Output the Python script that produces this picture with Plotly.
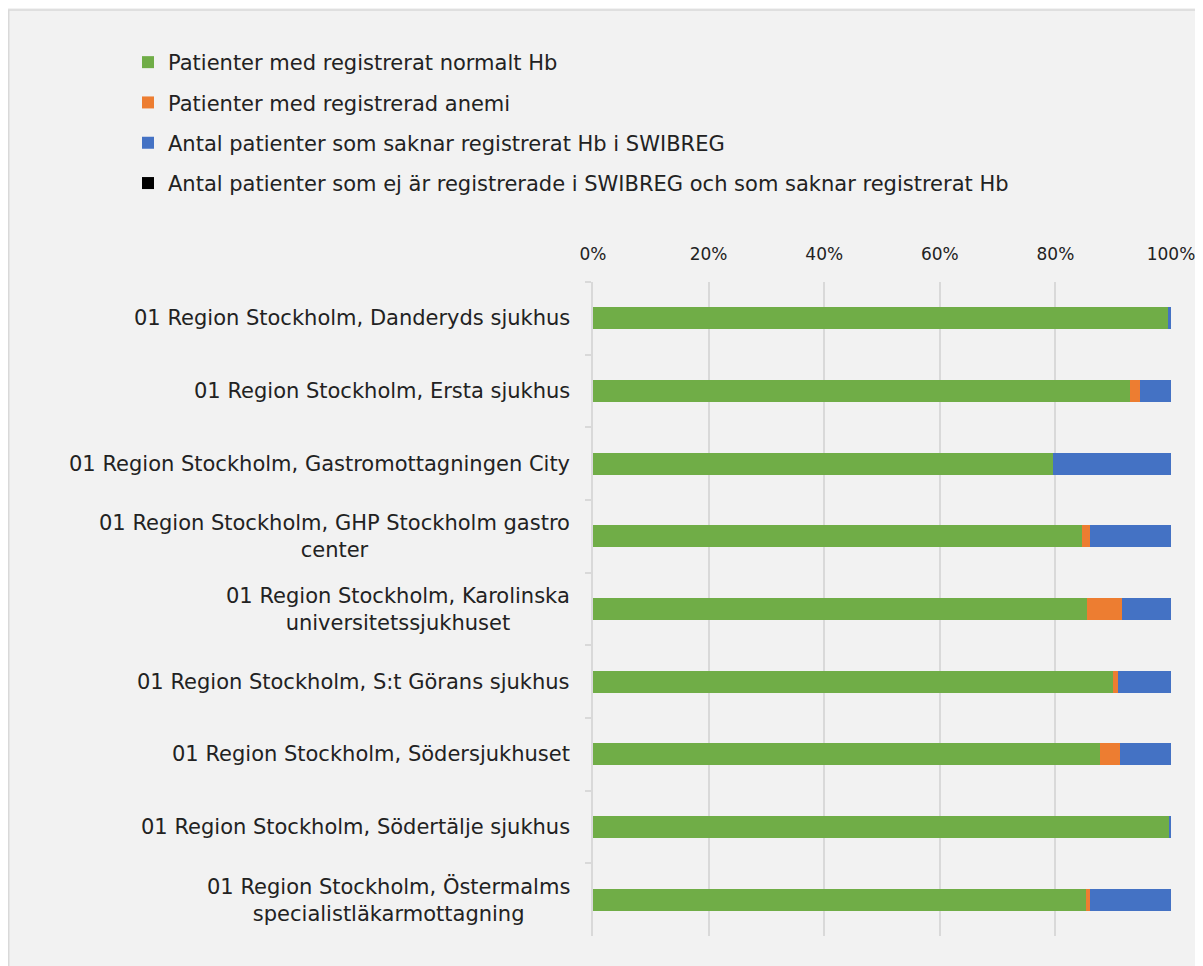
import plotly.graph_objects as go

categories = [
    "01 Region Stockholm, Danderyds sjukhus",
    "01 Region Stockholm, Ersta sjukhus",
    "01 Region Stockholm, Gastromottagningen City",
    "01 Region Stockholm, GHP Stockholm gastro<br>center",
    "01 Region Stockholm, Karolinska<br>universitetssjukhuset",
    "01 Region Stockholm, S:t Görans sjukhus",
    "01 Region Stockholm, Södersjukhuset",
    "01 Region Stockholm, Södertälje sjukhus",
    "01 Region Stockholm, Östermalms<br>specialistläkarmottagning",
]
normal_hb = [99.5, 92.9, 79.6, 84.6, 85.4, 90.0, 87.7, 99.6, 85.3]
anemi = [0.0, 1.7, 0.0, 1.3, 6.1, 0.8, 3.5, 0.0, 0.6]
saknar_hb = [0.5, 5.4, 20.4, 14.1, 8.5, 9.2, 8.8, 0.4, 14.1]
ej_registrerade = [0, 0, 0, 0, 0, 0, 0, 0, 0]

series_names = [
    "Patienter med registrerat normalt Hb",
    "Patienter med registrerad anemi",
    "Antal patienter som saknar registrerat Hb i SWIBREG",
    "Antal patienter som ej är registrerade i SWIBREG och som saknar registrerat Hb",
]
series_values = [normal_hb, anemi, saknar_hb, ej_registrerade]
colors = ["#70ad47", "#ed7d31", "#4472c4", "#000000"]
x_ticks = [0, 0.2, 0.4, 0.6, 0.8, 1.0]

FONT = "DejaVu Sans"
TXT = "#222222"
FS = 21
W, H = 1195, 958
L, R, T, B = 585, 32, 274, 30

fig = go.Figure()
for i, (name, vals, col) in enumerate(zip(series_names, series_values, colors)):
    fig.add_trace(go.Bar(
        y=categories, x=[v / 100 for v in vals], name=name, orientation="h",
        marker=dict(color=col, line=dict(width=0)), legendgroup=f"g{i}",
    ))

for c in categories:
    fig.add_annotation(
        x=0, xref="paper", y=c, yref="y", text=c, showarrow=False,
        xanchor="right", yanchor="middle", align="center", xshift=-21,
        font=dict(family=FONT, size=FS, color=TXT),
    )

plot_w = W - L - R
plot_h = H - T - B
fig.add_shape(type="line", xref="paper", yref="paper",
              x0=-L / plot_w, x1=(W - L) / plot_w,
              y0=1 + (T - 2) / plot_h, y1=1 + (T - 2) / plot_h,
              line=dict(color="#d9d9d9", width=1.5))
fig.add_shape(type="line", xref="paper", yref="paper",
              x0=-(L - 0.75) / plot_w, x1=-(L - 0.75) / plot_w,
              y0=-B / plot_h, y1=1 + (T - 2) / plot_h,
              line=dict(color="#d9d9d9", width=1.5))

fig.update_layout(
    width=W, height=H,
    margin=dict(l=L, r=R, t=T, b=B, pad=0, autoexpand=False),
    paper_bgcolor="#f2f2f2", plot_bgcolor="#f2f2f2",
    barmode="stack", bargap=0.7,
    font=dict(family=FONT, size=FS, color=TXT),
    showlegend=True,
    legend=dict(
        xref="container", yref="container", x=120 / W, y=1 - 34 / H,
        xanchor="left", yanchor="top", orientation="v",
        traceorder="grouped", tracegroupgap=10,
        font=dict(family=FONT, size=FS, color=TXT),
        bgcolor="rgba(0,0,0,0)",
    ),
    xaxis=dict(
        side="top", range=[0, 1], tickvals=x_ticks, tickformat=".0%",
        showgrid=True, gridcolor="#d9d9d9", gridwidth=1.5,
        zeroline=False, showline=False, ticks="",
        ticklabelstandoff=18,
        tickfont=dict(family=FONT, size=17, color=TXT),
        fixedrange=True,
    ),
    yaxis=dict(
        autorange="reversed", showticklabels=False,
        showline=True, linecolor="#d9d9d9", linewidth=1.5,
        ticks="outside", ticklen=6, tickcolor="#d9d9d9", tickwidth=1.5,
        tickson="boundaries", showgrid=False, zeroline=False, fixedrange=True,
    ),
)

fig.write_html("out.html")
